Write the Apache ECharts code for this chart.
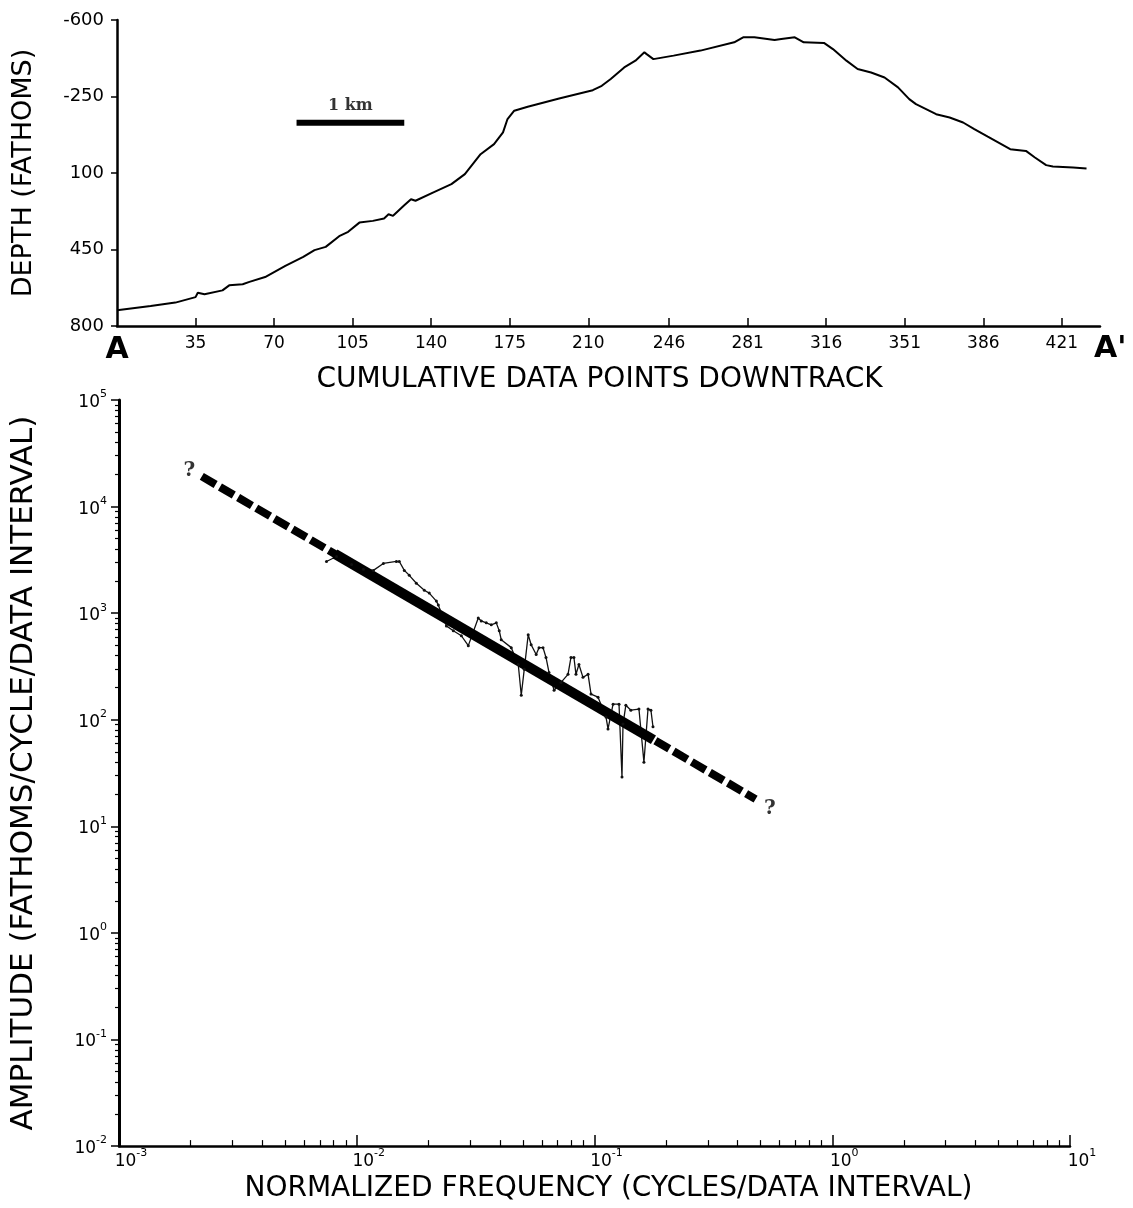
<!DOCTYPE html>
<html><head><meta charset="utf-8">
<script src="https://cdn.jsdelivr.net/npm/echarts@6/dist/echarts.min.js"></script>
<style>html,body{margin:0;padding:0;background:#fff}#c{width:1133px;height:1208px}</style>
</head><body><div id="c"></div>
<script>
// ---- Top panel: bathymetric profile A-A' ----
const trackPoints = [0,15,26,35,36,39,47,50,56,59,66,75,83,88,93,99,103,108,114,119,121,123,128,
  131,133,141,149,155,162,168,172,174,177,183,197,212,216,220,226,231,235,236,239,248,260,275,279,284,
  293,296,302,306,315,319,325,330,336,342,348,353,356,365,371,377,382,388,398,405,409,414,417,426,432];
const depthFathoms = [728,708,693,668,648,655,637,614,609,598,576,525,484,453,438,389,369,327,319,308,289,296,248,
  220,227,189,151,105,14,-32,-86,-147,-185,-203,-241,-279,-299,-330,-383,-414,-452,-444,-421,-437,-460,-498,-521,-521,
  -508,-513,-521,-498,-495,-467,-414,-376,-360,-337,-292,-238,-215,-169,-154,-131,-101,-66,-9,-1,29,64,70,75,79];
const depthTicks = [-600,-250,100,450,800];
const trackTicks = [0,35,70,105,140,175,210,246,281,316,351,386,421];
const scaleBarTrack = [80,128];
const scaleBarDepth = -130;

// ---- Bottom panel: amplitude spectrum ----
const specFreq = [0.00746,0.00822,0.00951,0.01067,0.01175,0.01294,0.01468,0.01510,0.01585,0.01663,0.01781,0.01924,
  0.02018,0.02162,0.02203,0.02382,0.02548,0.02754,0.02946,0.03244,0.03339,0.03505,0.03680,0.03863,0.03975,0.04053,
  0.04466,0.04779,0.04920,0.05064,0.05262,0.05414,0.05684,0.05843,0.06074,0.06252,0.06436,0.06761,0.07234,0.07737,
  0.07962,0.08193,0.08358,0.08601,0.08944,0.09397,0.09669,0.1035,0.1118,0.1140,0.1197,0.1268,0.1305,0.1318,0.1355,
  0.1422,0.1538,0.1614,0.1679,0.1727,0.1762];
const specAmp = [3055,3404,2866,2576,2519,2929,3055,3055,2519,2265,1908,1643,
  1542,1298,1191,760,684,614,496,902,845,811,777,811,684,564,
  475,330,170,297,627,506,409,475,475,384,278,189,224,267,
  384,384,267,330,250,267,174,163,106,82,140,140,29,91,137,
  123,126,40,126,123,86];
const fitFreq = [0.00223,0.476];
const fitAmp = [19200,18.0];
const fitSolidFreq = [0.00809,0.177];
const fitSolidAmp = [3600,65];
const freqDecades = [0.001,0.01,0.1,1,10];
const ampDecades = [0.01,0.1,1,10,100,1000,10000,100000];

function minorOf(decades){
  const out=[];
  for(let i=0;i<decades.length-1;i++) for(let m=2;m<=9;m++) out.push(+(decades[i]*m).toPrecision(6));
  return out;
}
const FONT='DejaVu Sans';
const INK='#000';
const pow10Label = v => { const e=Math.round(Math.log10(v)); return '{b|10}{e|'+e+'}'; };
const powRich = { b:{fontSize:17,fontFamily:FONT,color:INK,lineHeight:22,verticalAlign:'bottom'},
                  e:{fontSize:11,fontFamily:FONT,color:INK,lineHeight:22,verticalAlign:'top'} };

const chart = echarts.init(document.getElementById('c'), null, {renderer:'canvas'});
const zip = (a,b)=>a.map((v,i)=>[v,b[i]]);

chart.setOption({
  animation:false,
  backgroundColor:'#fff',
  grid:[
    {left:117, right:33, top:20, height:306},
    {left:117, right:63, top:400, bottom:40}
  ],
  xAxis:[
    {type:'value', gridIndex:0, min:0, max:438,
     axisLine:{onZero:false, lineStyle:{color:INK,width:2.5}},
     axisTick:{inside:true,length:8,lineStyle:{color:INK,width:1.5},customValues:trackTicks.slice(1)},
     axisLabel:{customValues:trackTicks, margin:9, color:INK, fontFamily:FONT, fontSize:17,
       formatter:v=> v===0 ? '{a|A}' : String(v),
       rich:{a:{fontSize:30,fontWeight:'bold',fontFamily:FONT,color:INK}}},
     splitLine:{show:false},
     name:'CUMULATIVE DATA POINTS DOWNTRACK', nameLocation:'middle', nameGap:32,
     nameTextStyle:{fontFamily:FONT,fontSize:28,color:INK,padding:[0,18,0,0]}},
    {type:'log', logBase:10, gridIndex:1, min:0.001, max:10, position:'bottom',
     axisLine:{onZero:false, lineStyle:{color:INK,width:2.5}},
     axisTick:{inside:true,length:11,lineStyle:{color:INK,width:1.5},customValues:freqDecades},
     axisLabel:{customValues:freqDecades, margin:2, formatter:pow10Label, rich:powRich, padding:[0,0,0,24]},
     splitLine:{show:false}, minorTick:{show:false},
     name:'NORMALIZED FREQUENCY (CYCLES/DATA INTERVAL)', nameLocation:'middle', nameGap:9,
     nameTextStyle:{fontFamily:FONT,fontSize:28,color:INK,padding:[0,0,0,28]}},
    {type:'log', logBase:10, gridIndex:1, min:0.001, max:10, position:'bottom',
     axisLine:{show:false, onZero:false},
     axisTick:{inside:true,length:6,lineStyle:{color:INK,width:1.2},customValues:minorOf(freqDecades)},
     axisLabel:{show:false}, splitLine:{show:false}}
  ],
  yAxis:[
    {type:'value', gridIndex:0, min:-600, max:800, inverse:true,
     axisLine:{show:true,onZero:false,lineStyle:{color:INK,width:2.5}},
     axisTick:{show:true,length:6,lineStyle:{color:INK,width:1.5},customValues:depthTicks},
     axisLabel:{customValues:depthTicks, margin:13, color:INK, fontFamily:FONT, fontSize:18},
     splitLine:{show:false},
     name:'DEPTH (FATHOMS)', nameLocation:'middle', nameGap:80,
     nameTextStyle:{fontFamily:FONT,fontSize:27,color:INK}},
    {type:'log', logBase:10, gridIndex:1, min:0.01, max:100000, position:'left',
     axisLine:{show:true,onZero:false,lineStyle:{color:INK,width:3}},
     axisTick:{show:true,length:8,lineStyle:{color:INK,width:1.5},customValues:ampDecades},
     axisLabel:{customValues:ampDecades, margin:12, formatter:pow10Label, rich:powRich},
     splitLine:{show:false}, minorTick:{show:false},
     name:'AMPLITUDE (FATHOMS/CYCLE/DATA INTERVAL)', nameLocation:'middle', nameGap:80,
     nameTextStyle:{fontFamily:FONT,fontSize:31,color:INK}},
    {type:'log', logBase:10, gridIndex:1, min:0.01, max:100000, position:'left',
     axisLine:{show:false,onZero:false},
     axisTick:{show:true,length:4,lineStyle:{color:INK,width:1.2},customValues:minorOf(ampDecades)},
     axisLabel:{show:false}, splitLine:{show:false}}
  ],
  graphic:[
    {type:'text', left:1094, top:334, style:{text:"A'", font:'bold 30px "DejaVu Sans"', fill:INK}}
  ],
  series:[
    {type:'line', xAxisIndex:0, yAxisIndex:0, data:zip(trackPoints,depthFathoms),
     showSymbol:false, lineStyle:{color:INK,width:2}},
    {type:'line', xAxisIndex:0, yAxisIndex:0, data:scaleBarTrack.map(x=>[x,scaleBarDepth]),
     showSymbol:false, lineStyle:{color:INK,width:6,cap:'butt'}},
    {type:'scatter', xAxisIndex:0, yAxisIndex:0,
     data:[[(scaleBarTrack[0]+scaleBarTrack[1])/2, scaleBarDepth]], symbolSize:1,
     itemStyle:{color:'rgba(0,0,0,0)'},
     label:{show:true, position:'top', distance:8, formatter:'1 km',
       fontFamily:'DejaVu Serif', fontWeight:'bold', fontSize:16, color:INK}},
    {type:'line', xAxisIndex:1, yAxisIndex:1, data:zip(specFreq,specAmp),
     symbol:'circle', symbolSize:3, showSymbol:true,
     itemStyle:{color:'#111'}, lineStyle:{color:'#111',width:1.3}},
    {type:'line', xAxisIndex:1, yAxisIndex:1, data:zip(fitFreq,fitAmp),
     showSymbol:false, lineStyle:{color:INK,width:8,type:[16,5],cap:'butt'}},
    {type:'line', xAxisIndex:1, yAxisIndex:1, data:zip(fitSolidFreq,fitSolidAmp),
     showSymbol:false, lineStyle:{color:INK,width:10,cap:'butt'}},
    {type:'scatter', xAxisIndex:1, yAxisIndex:1, symbolSize:1, itemStyle:{color:'rgba(0,0,0,0)'},
     data:[
       {value:[fitFreq[0],fitAmp[0]], label:{show:true,formatter:'?',position:'left',distance:6,offset:[0,-6]}},
       {value:[fitFreq[1],fitAmp[1]], label:{show:true,formatter:'?',position:'right',distance:8,offset:[0,10]}}
     ],
     label:{fontFamily:'DejaVu Serif',fontWeight:'bold',fontSize:20,color:INK}}
  ]
});
</script></body></html>
